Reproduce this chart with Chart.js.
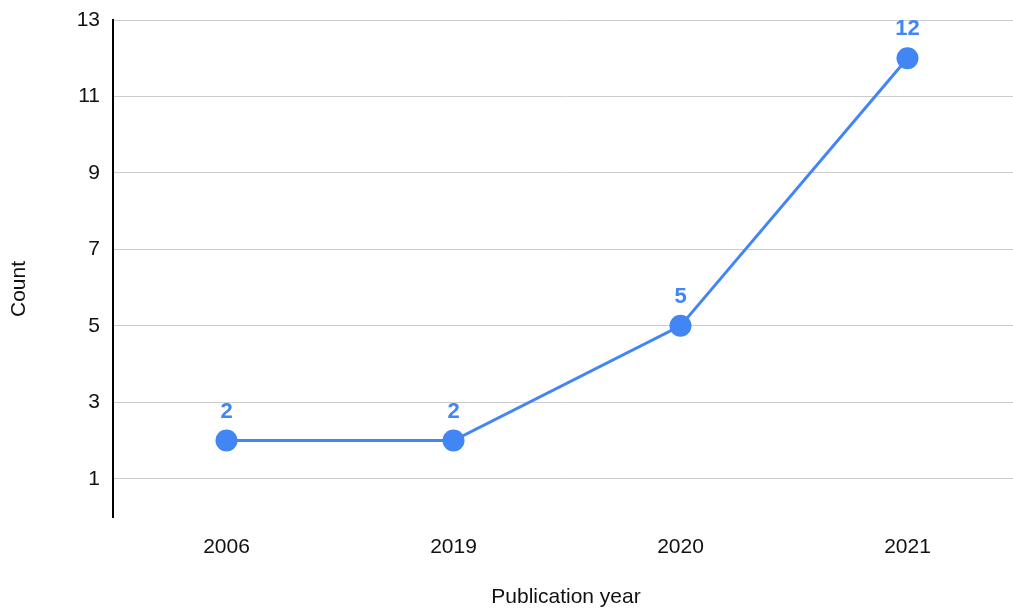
<!DOCTYPE html>
<html>
<head>
<meta charset="utf-8">
<title>Publications per year</title>
<script src="https://cdn.jsdelivr.net/npm/chart.js@4"></script>
<style>
  html, body { margin: 0; padding: 0; overflow: hidden; background: #fff; }
  #wrap { width: 1040px; height: 610px; }
</style>
</head>
<body>
<div id="wrap"><canvas id="yearChart" width="1040" height="610"></canvas></div>
<script>
/* ---- Data ---- */
const YEARS  = ['2006', '2019', '2020', '2021'];
const COUNTS = [2, 2, 5, 12];
const Y_TICKS = [1, 3, 5, 7, 9, 11, 13];

const BLUE = '#4285F4';
const FONT = "'Liberation Sans', Arial, sans-serif";

/* ---- Value labels over the points + axis titles ---- */
const labelsPlugin = {
  id: 'labelsPlugin',
  afterDatasetsDraw(chart) {
    const ctx = chart.ctx;
    const meta = chart.getDatasetMeta(0);
    ctx.save();
    ctx.fillStyle = BLUE;
    ctx.font = 'bold 22px ' + FONT;
    ctx.textAlign = 'center';
    ctx.textBaseline = 'middle';
    meta.data.forEach((pt, i) => {
      ctx.fillText(String(COUNTS[i]), pt.x, pt.y - 29);
    });

    ctx.fillStyle = '#111';
    ctx.font = '21px ' + FONT;
    ctx.fillText('Publication year', 566, 597);
    ctx.translate(19, 289);
    ctx.rotate(-Math.PI / 2);
    ctx.fillText('Count', 0, 0);
    ctx.restore();
  }
};

new Chart(document.getElementById('yearChart').getContext('2d'), {
  type: 'line',
  data: {
    labels: YEARS,
    datasets: [{
      data: COUNTS,
      borderColor: BLUE,
      backgroundColor: BLUE,
      borderWidth: 3,
      tension: 0,
      pointRadius: 11,
      pointHoverRadius: 11,
      pointBorderWidth: 0,
      pointBackgroundColor: BLUE
    }]
  },
  options: {
    responsive: false,
    animation: false,
    devicePixelRatio: 1,
    layout: { padding: { top: 20, right: 19, left: 0, bottom: 0 } },
    plugins: {
      legend: { display: false },
      tooltip: { enabled: false }
    },
    scales: {
      x: {
        offset: true,
        grid: { display: false, drawTicks: false },
        border: { display: false },
        ticks: { color: '#111', font: { family: FONT, size: 21 }, padding: 18 },
        afterFit: s => { s.height = 93; }
      },
      y: {
        min: 0,
        max: 13,
        afterBuildTicks: s => { s.ticks = Y_TICKS.map(v => ({ value: v })); },
        grid: { color: '#cccccc', lineWidth: 1, drawTicks: false },
        border: { display: true, color: '#000', width: 2 },
        ticks: { color: '#111', font: { family: FONT, size: 21 }, padding: 13 },
        afterFit: s => { s.width = 113; s.paddingTop = 0; s.paddingBottom = 0; }
      }
    }
  },
  plugins: [labelsPlugin]
});
</script>
</body>
</html>
